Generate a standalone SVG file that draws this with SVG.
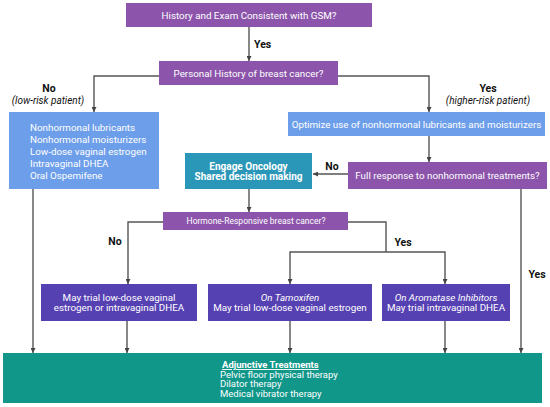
<svg xmlns="http://www.w3.org/2000/svg" width="550" height="407" viewBox="0 0 550 407">
<defs>
<marker id="ah" viewBox="0 0 10 10" refX="10" refY="5" markerWidth="5" markerHeight="5" orient="auto" markerUnits="userSpaceOnUse">
<path d="M0,0 L10,5 L0,10 z" fill="#444"/>
</marker>
<style>
text{font-family:Roboto,"Liberation Sans",sans-serif;}
.w{fill:#fff;font-size:9.8px;}
.c{text-anchor:middle;}
.lbl{fill:#111;font-size:10.5px;font-weight:bold;}
.it{font-style:italic;}
.ln{fill:none;stroke:#555;stroke-width:1.4;}
.arr{marker-end:url(#ah);}
.pu{fill:#8c55ab;}
.lb{fill:#6d9eea;}
.tb{fill:#2b97b8;}
.ind{fill:#5641b3;}
.tl{fill:#11968a;}
.adj{fill:#fff;font-size:9.5px;}
</style>
</defs>
<rect width="550" height="407" fill="#fff"/>

<g id="connectors">
<path class="ln arr" d="M249,27 V61"/>
<path class="ln arr" d="M159,76 H94 V112"/>
<path class="ln arr" d="M338,76 H429 V112"/>
<path class="ln arr" d="M429,136 V162"/>
<path class="ln arr" d="M348,174 H313"/>
<path class="ln arr" d="M249,189 V212"/>
<path class="ln arr" d="M163,222 H128 V284"/>
<path class="ln" d="M348,222 H386 V252"/>
<path class="ln arr" d="M386,252 H290 V284"/>
<path class="ln arr" d="M386,252 H445 V284"/>
<path class="ln arr" d="M33,189 V353"/>
<path class="ln arr" d="M127,321 V353"/>
<path class="ln arr" d="M290,321 V353"/>
<path class="ln arr" d="M445,321 V353"/>
<path class="ln arr" d="M521,189 V353"/>
<text class="lbl" x="254" y="48">Yes</text>
<text class="lbl c" x="49" y="92">No</text>
<text class="c it" x="48" y="103.5" style="font-size:10px;fill:#111">(low-risk patient)</text>
<text class="lbl c" x="488" y="92">Yes</text>
<text class="c it" x="488" y="103.5" style="font-size:10px;fill:#111">(higher-risk patient)</text>
<text class="lbl c" x="332" y="170">No</text>
<text class="lbl c" x="115" y="245">No</text>
<text class="lbl c" x="403" y="246">Yes</text>
<text class="lbl c" x="537" y="278">Yes</text>
</g>

<g id="n-gsm">
<rect class="pu" x="126" y="3" width="246" height="24"/>
<text class="w c" x="249" y="19">History and Exam Consistent with GSM?</text>
</g>

<g id="n-history">
<rect class="pu" x="159" y="61" width="179" height="24"/>
<text class="w c" x="248.5" y="76.5">Personal History of breast cancer?</text>
</g>

<g id="n-lowrisk">
<rect class="lb" x="9" y="112" width="150" height="77"/>
<text class="w" x="30" y="130.5">Nonhormonal lubricants</text>
<text class="w" x="30" y="142.5">Nonhormonal moisturizers</text>
<text class="w" x="30" y="154.5">Low-dose vaginal estrogen</text>
<text class="w" x="30" y="166.5">Intravaginal DHEA</text>
<text class="w" x="30" y="178.5">Oral Ospemifene</text>
</g>

<g id="n-optimize">
<rect class="lb" x="288" y="112" width="257" height="24"/>
<text class="w c" x="416.5" y="127.5">Optimize use of nonhormonal lubricants and moisturizers</text>
</g>

<g id="n-engage">
<rect class="tb" x="185" y="153" width="127" height="36"/>
<text class="w c" x="248.5" y="169.5" font-weight="bold" style="font-size:10px">Engage Oncology</text>
<text class="w c" x="248.5" y="179.5" font-weight="bold" style="font-size:10px">Shared decision making</text>
</g>

<g id="n-full">
<rect class="pu" x="348" y="162" width="199" height="27"/>
<text class="w c" x="447.5" y="179">Full response to nonhormonal treatments?</text>
</g>

<g id="n-hormone">
<rect class="pu" x="163" y="212" width="185" height="18"/>
<text class="w c" x="256" y="224" style="font-size:8.5px">Hormone-Responsive breast cancer?</text>
</g>

<g id="n-no-hr">
<rect class="ind" x="41" y="284" width="156" height="37"/>
<text class="w c" x="119" y="300.5">May trial low-dose vaginal</text>
<text class="w c" x="119" y="311">estrogen or intravaginal DHEA</text>
</g>

<g id="n-tamoxifen">
<rect class="ind" x="208" y="284" width="164" height="37"/>
<text class="w c it" x="290" y="300.5">On Tamoxifen</text>
<text class="w c" x="290" y="311">May trial low-dose vaginal estrogen</text>
</g>

<g id="n-ai">
<rect class="ind" x="382" y="284" width="128" height="37"/>
<text class="w c it" x="446" y="300.5">On Aromatase Inhibitors</text>
<text class="w c" x="446" y="311">May trial intravaginal DHEA</text>
</g>

<g id="n-adjunctive">
<rect class="tl" x="3" y="353" width="539" height="50"/>
<text class="adj" x="222" y="368" font-weight="bold" text-decoration="underline">Adjunctive Treatments</text>
<text class="adj" x="220" y="377.7">Pelvic floor physical therapy</text>
<text class="adj" x="220" y="387.4">Dilator therapy</text>
<text class="adj" x="220" y="397.1">Medical vibrator therapy</text>
</g>
</svg>
